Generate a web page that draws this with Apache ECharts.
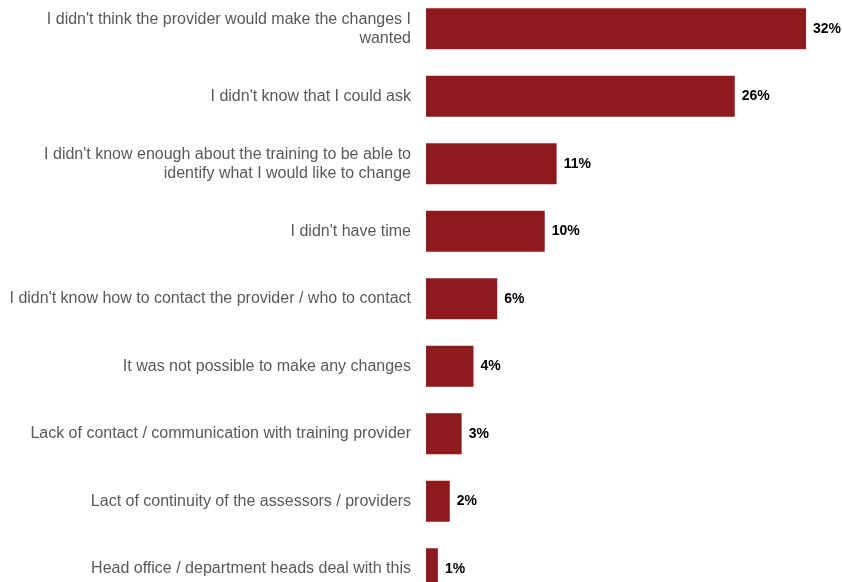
<!DOCTYPE html>
<html>
<head>
<meta charset="utf-8">
<script src="https://cdn.jsdelivr.net/npm/echarts@6/dist/echarts.min.js"></script>
<style>
html,body{margin:0;padding:0;background:#fff;overflow:hidden;width:842px;height:582px;}
#chart{width:842px;height:620px;margin-top:-10px;}
</style>
</head>
<body>
<div id="chart"></div>
<script>
const categories = [
  "I didn't think the provider would make the changes I\nwanted",
  "I didn't know that I could ask",
  "I didn't know enough about the training to be able to\nidentify what I would like to change",
  "I didn't have time",
  "I didn't know how to contact the provider / who to contact",
  "It was not possible to make any changes",
  "Lack of contact / communication with training provider",
  "Lact of continuity of the assessors / providers",
  "Head office / department heads deal with this"
];
const values = [32, 26, 11, 10, 6, 4, 3, 2, 1];

const chart = echarts.init(document.getElementById('chart'), null, {renderer: 'canvas'});
chart.setOption({
  animation: false,
  backgroundColor: '#ffffff',
  grid: {left: 426, top: 5, right: 36, height: 607.5, containLabel: false},
  xAxis: {
    type: 'value', min: 0, max: 32, show: false
  },
  yAxis: {
    type: 'category', data: categories, inverse: true,
    axisLine: {show: false}, axisTick: {show: false}, splitLine: {show: false},
    axisLabel: {
      margin: 15, color: '#595959', fontFamily: 'Liberation Sans, Arial, sans-serif',
      fontSize: 16, lineHeight: 19, align: 'right'
    }
  },
  series: [{
    type: 'bar', data: values, barWidth: 41,
    itemStyle: {color: '#8f1a1e'},
    label: {
      show: true, position: 'right', distance: 7, formatter: '{c}%',
      color: '#000', fontWeight: 'bold', fontSize: 14,
      fontFamily: 'Liberation Sans, Arial, sans-serif'
    }
  }]
});
</script>
</body>
</html>
